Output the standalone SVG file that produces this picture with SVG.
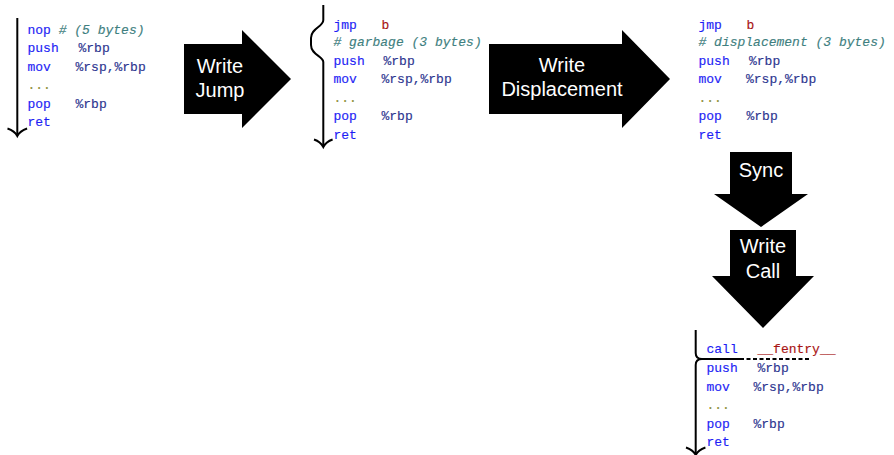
<svg xmlns="http://www.w3.org/2000/svg" width="894" height="455" viewBox="0 0 894 455">
  <style>
    .code { font-family: "Liberation Mono", "DejaVu Sans Mono", monospace; font-size: 13px; stroke-width: 0.15px; }
    .kw { fill: #1e1ef5; stroke: #1e1ef5; }
    .op { fill: #2d3590; stroke: #2d3590; }
    .lbl { fill: #a81414; stroke: #a81414; }
    .cm { fill: #3f7f7f; stroke: #3f7f7f; font-style: italic; }
    .dots { fill: #8f8f3a; stroke: #8f8f3a; }
    .step { fill: #000000; }
    .steptext { font-family: "Liberation Sans", Arial, sans-serif; font-size: 20px; fill: #ffffff; text-anchor: middle; }
    .flow { fill: none; stroke: #000000; stroke-width: 2; }
    .tip { fill: none; stroke: #000000; stroke-width: 2; stroke-linejoin: miter; }
    .dash { fill: none; stroke: #000000; stroke-width: 2; stroke-dasharray: 4 2.5; }
  </style>

  <!-- original prologue: 5-byte nop -->
  <g id="listing-nop" class="code">
    <text x="27.5" y="33.5"><tspan class="kw">nop</tspan><tspan class="cm" x="58.7"># (5 bytes)</tspan></text>
    <text x="27.5" y="52"><tspan class="kw">push</tspan><tspan class="op" x="78.5">%rbp</tspan></text>
    <text x="27.5" y="70.5"><tspan class="kw">mov</tspan><tspan class="op" x="75.5">%rsp,%rbp</tspan></text>
    <text x="27.5" y="89" class="dots">...</text>
    <text x="27.5" y="107.5"><tspan class="kw">pop</tspan><tspan class="op" x="75.5">%rbp</tspan></text>
    <text x="27.5" y="126" class="kw">ret</text>
  </g>

  <!-- step: write the jump -->
  <g id="step-write-jump">
    <polygon class="step" points="184,44 242,44 242,30 291,79 242,128 242,114 184,114"/>
    <text class="steptext" x="220" y="73">Write</text>
    <text class="steptext" x="220" y="97">Jump</text>
  </g>

  <!-- jump over garbage bytes -->
  <g id="listing-jmp-garbage" class="code">
    <text x="333.5" y="28.5"><tspan class="kw">jmp</tspan><tspan class="lbl" x="381.5">b</tspan></text>
    <text x="333.5" y="46" class="cm"># garbage (3 bytes)</text>
    <text x="333.5" y="64.5"><tspan class="kw">push</tspan><tspan class="op" x="383.5">%rbp</tspan></text>
    <text x="333.5" y="83"><tspan class="kw">mov</tspan><tspan class="op" x="381.5">%rsp,%rbp</tspan></text>
    <text x="333.5" y="101.5" class="dots">...</text>
    <text x="333.5" y="120"><tspan class="kw">pop</tspan><tspan class="op" x="381.5">%rbp</tspan></text>
    <text x="333.5" y="138.5" class="kw">ret</text>
  </g>

  <!-- step: write the displacement -->
  <g id="step-write-displacement">
    <polygon class="step" points="489,44 622,44 622,30 670,79 622,128 622,114 489,114"/>
    <text class="steptext" x="562" y="72">Write</text>
    <text class="steptext" x="562" y="96">Displacement</text>
  </g>

  <!-- jump with displacement -->
  <g id="listing-jmp-displacement" class="code">
    <text x="698.5" y="28.5"><tspan class="kw">jmp</tspan><tspan class="lbl" x="746.5">b</tspan></text>
    <text x="698.5" y="46" class="cm"># displacement (3 bytes)</text>
    <text x="698.5" y="64.5"><tspan class="kw">push</tspan><tspan class="op" x="749">%rbp</tspan></text>
    <text x="698.5" y="83"><tspan class="kw">mov</tspan><tspan class="op" x="746">%rsp,%rbp</tspan></text>
    <text x="698.5" y="101.5" class="dots">...</text>
    <text x="698.5" y="120"><tspan class="kw">pop</tspan><tspan class="op" x="746.5">%rbp</tspan></text>
    <text x="698.5" y="138.5" class="kw">ret</text>
  </g>

  <!-- step: sync -->
  <g id="step-sync">
    <polygon class="step" points="730,152 792,152 792,194 808,194 761,227 714,194 730,194"/>
    <text class="steptext" x="761" y="177">Sync</text>
  </g>

  <!-- step: write the call -->
  <g id="step-write-call">
    <polygon class="step" points="730,230 796,230 796,276 814,276 763,328 712,276 730,276"/>
    <text class="steptext" x="763" y="253">Write</text>
    <text class="steptext" x="763" y="278">Call</text>
  </g>

  <!-- final prologue: call to __fentry__ -->
  <g id="listing-call-fentry" class="code">
    <text x="706.5" y="352.5"><tspan class="kw">call</tspan><tspan class="lbl" x="757.5">__fentry__</tspan></text>
    <text x="706.5" y="372"><tspan class="kw">push</tspan><tspan class="op" x="757.5">%rbp</tspan></text>
    <text x="706.5" y="390.5"><tspan class="kw">mov</tspan><tspan class="op" x="753.5">%rsp,%rbp</tspan></text>
    <text x="706.5" y="409" class="dots">...</text>
    <text x="706.5" y="428"><tspan class="kw">pop</tspan><tspan class="op" x="753.5">%rbp</tspan></text>
    <text x="706.5" y="446" class="kw">ret</text>
  </g>

  <!-- execution flow lines -->
  <g id="connectors">
    <!-- straight flow through the nop prologue -->
    <path class="flow" d="M17.3,18 V135"/>
    <path class="tip" d="M7.5,128.5 C12,130 15.5,132.5 17.3,136 C19.1,132.5 22.6,130 27.1,128.5"/>

    <!-- flow skipping the garbage bytes -->
    <path class="flow" d="M323.3,5 V20 C323.3,27 311,28 311,38 V45 C311,55 323.3,56 323.3,62 V146"/>
    <path class="tip" d="M314,139.5 C318.5,141 321.5,143.5 323.3,147 C325.1,143.5 328.1,141 332.6,139.5"/>

    <!-- flow diverted into the call -->
    <path class="flow" d="M695.7,330 V353 C695.7,357 698,359 702,359 H740"/>
    <path class="flow" d="M695.7,454 V365 C695.7,361 698,359 702,359"/>
    <path class="dash" d="M740,359 H811"/>
    <path class="tip" d="M686,447.5 C690.5,449 693.9,451.5 695.7,455 C697.5,451.5 700.9,449 705.4,447.5"/>
  </g>
</svg>
